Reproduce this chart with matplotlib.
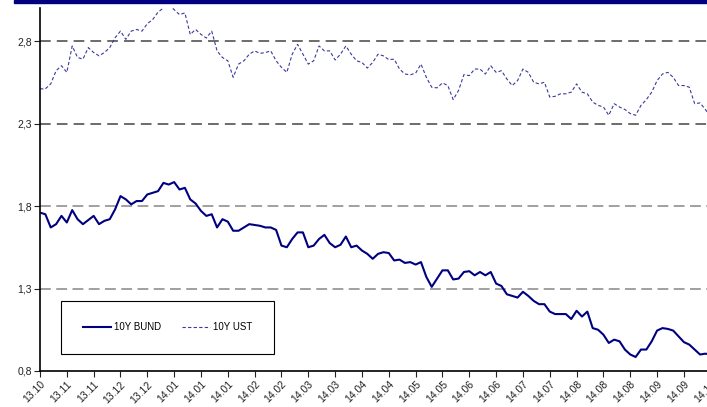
import matplotlib
matplotlib.use("Agg")
import matplotlib.pyplot as plt
from matplotlib.patches import Rectangle
from matplotlib.ticker import FuncFormatter
import numpy as np

plt.rcParams['font.family'] = ['Liberation Sans', 'DejaVu Sans']

# business-day index, one reading every 2 days
days = np.arange(0, 251, 2)

ust = [2.51, 2.51, 2.54, 2.62, 2.65, 2.61, 2.77, 2.70, 2.69, 2.76,
       2.73, 2.71, 2.73, 2.76, 2.82, 2.86, 2.81, 2.86, 2.87, 2.86,
       2.905, 2.93, 2.975, 3.0, 3.02, 2.99, 2.96, 2.97, 2.84, 2.87,
       2.84, 2.818, 2.86, 2.74, 2.70, 2.68, 2.58, 2.66, 2.68, 2.72,
       2.74, 2.725, 2.73, 2.74, 2.68, 2.64, 2.61, 2.72, 2.78, 2.72,
       2.66, 2.68, 2.77, 2.74, 2.74, 2.685, 2.72, 2.77, 2.72, 2.68,
       2.67, 2.636, 2.67, 2.72, 2.71, 2.687, 2.69, 2.63, 2.60, 2.595,
       2.605, 2.66, 2.58, 2.52, 2.516, 2.546, 2.53, 2.445, 2.50, 2.596,
       2.59, 2.63, 2.63, 2.60, 2.65, 2.61, 2.62, 2.57, 2.53, 2.56,
       2.63, 2.61, 2.55, 2.54, 2.55, 2.46, 2.465, 2.48, 2.48, 2.49,
       2.54, 2.49, 2.48, 2.43, 2.41, 2.40, 2.35, 2.42, 2.40, 2.385,
       2.36, 2.35, 2.41, 2.445, 2.49, 2.56, 2.60, 2.61, 2.58, 2.53,
       2.53, 2.52, 2.42, 2.425, 2.385, 2.34]

bund = [1.76, 1.75, 1.67, 1.69, 1.74, 1.70, 1.775, 1.72, 1.69, 1.715,
        1.74, 1.69, 1.71, 1.72, 1.78, 1.86, 1.84, 1.81, 1.83, 1.83,
        1.87, 1.88, 1.89, 1.94, 1.93, 1.945, 1.90, 1.91, 1.84, 1.815,
        1.77, 1.74, 1.75, 1.67, 1.72, 1.705, 1.65, 1.65, 1.67, 1.69,
        1.685, 1.68, 1.67, 1.67, 1.655, 1.56, 1.55, 1.60, 1.64, 1.64,
        1.55, 1.56, 1.60, 1.625, 1.575, 1.55, 1.565, 1.615, 1.55, 1.56,
        1.53, 1.51, 1.48, 1.51, 1.52, 1.515, 1.47, 1.475, 1.455, 1.46,
        1.445, 1.46, 1.37, 1.31, 1.36, 1.41, 1.41, 1.355, 1.36, 1.40,
        1.405, 1.38, 1.40, 1.38, 1.40, 1.33, 1.315, 1.265, 1.255, 1.245,
        1.28, 1.255, 1.225, 1.205, 1.205, 1.16, 1.145, 1.145, 1.145, 1.115,
        1.165, 1.13, 1.16, 1.06, 1.05, 1.02, 0.97, 0.99, 0.98, 0.93,
        0.90, 0.885, 0.93, 0.93, 0.98, 1.045, 1.06, 1.055, 1.045, 1.01,
        0.975, 0.96, 0.93, 0.90, 0.905, 0.90]

tick_days = np.arange(0, 251, 10)
tick_labels = ['13.10', '13.11', '13.11', '13.12', '13.12', '14.01', '14.01',
               '14.01', '14.02', '14.02', '14.03', '14.03', '14.04', '14.04',
               '14.05', '14.05', '14.06', '14.06', '14.07', '14.07', '14.08',
               '14.08', '14.08', '14.09', '14.09', '14.10']
y_ticks = [0.8, 1.3, 1.8, 2.3, 2.8]

W, H = 707, 407
fig = plt.figure(figsize=(W / 100, H / 100), dpi=100)
# axes run past the right edge, as in the original
ax = fig.add_axes([40 / W, 36 / H, 260 * 2.683 / W, 363 / H])

ax.plot(days, bund, color='#000080', lw=1.5, label='10Y BUND')
ax.plot(days, ust, color='#3a3a9a', lw=0.8, ls=(0, (3, 2)), label='10Y UST')

ax.set_xlim(0, 260)
ax.set_ylim(0.8, 3.0)

for v in [2.8, 2.3]:
    ax.axhline(v, color='#444444', lw=1.1, ls=(0, (7, 4)), zorder=0)
for v in [1.8, 1.3]:
    ax.axhline(v, color='#999999', lw=1.3, ls=(0, (6, 3)), zorder=0)

ax.set_yticks(y_ticks)
ax.yaxis.set_major_formatter(FuncFormatter(lambda v, p: f'{v:.1f}'.replace('.', ',')))
ax.set_xticks(tick_days)
ax.set_xticklabels(tick_labels, rotation=45, ha='right', rotation_mode='anchor')
ax.tick_params(labelsize=7.5, colors='#222222', length=4, width=0.8, pad=2)

for s in ['top', 'right']:
    ax.spines[s].set_visible(False)
for s in ['left', 'bottom']:
    ax.spines[s].set_linewidth(1.2)
    ax.spines[s].set_color('black')

leg = ax.legend(loc='center', bbox_to_anchor=(167.5 / W, 79.5 / H),
                bbox_transform=fig.transFigure, ncol=2, fontsize=7,
                borderpad=2.2, handlelength=2.9, handletextpad=0.3,
                columnspacing=2.2, fancybox=False, framealpha=1)
leg.get_frame().set_edgecolor('black')
leg.get_frame().set_linewidth(0.8)

# navy strip along the top
fig.patches.append(Rectangle((14 / W, 1 - 3 / H), 1, 3 / H,
                             transform=fig.transFigure, color='#000080',
                             zorder=5))

fig.savefig('out.png', dpi=100)
